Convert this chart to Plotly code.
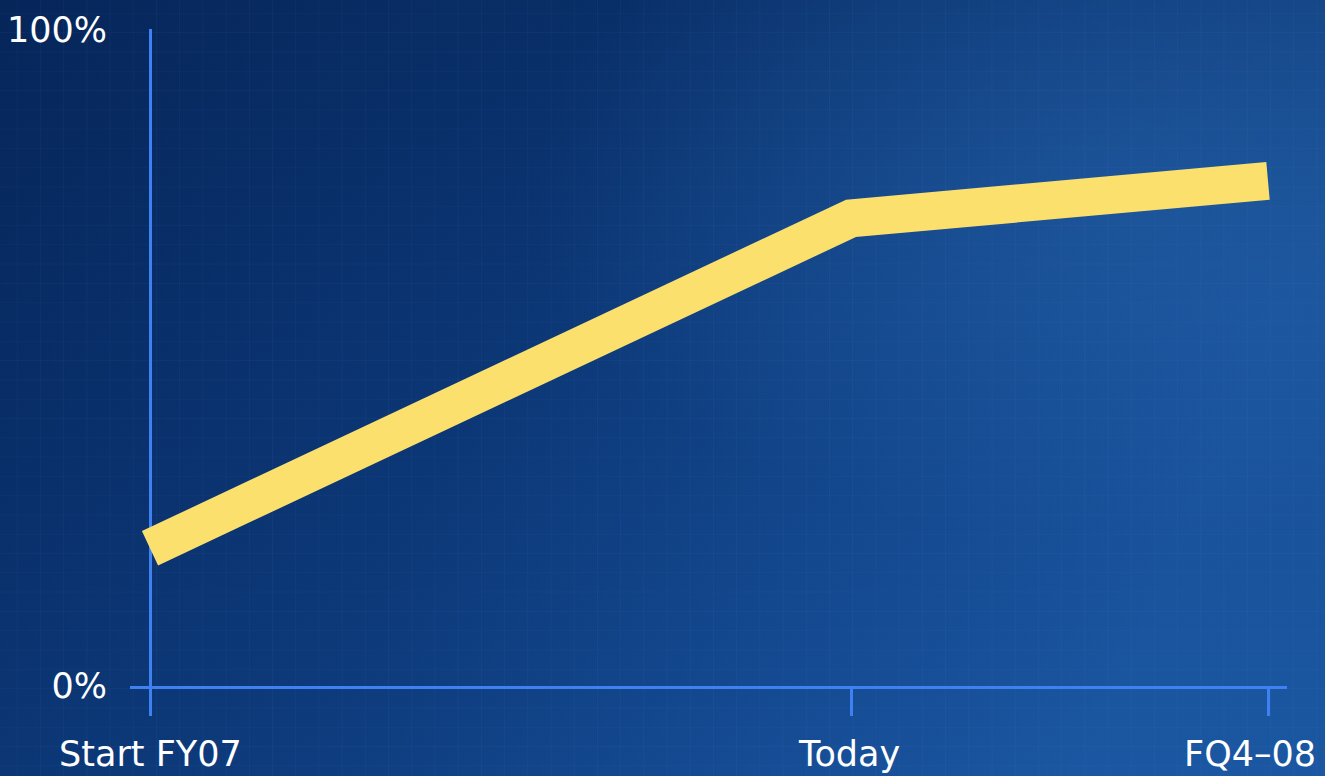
import base64
import plotly.graph_objects as go

# ---- data ----
categories = ["Start FY07", "Today", "FQ4\u201308"]
months_elapsed = [0, 15.05, 24]          # position along the timeline (months from start FY07)
progress_pct = [21, 71.3, 77]             # % complete
y_tick_vals = [0, 100]
y_tick_text = ["0%", "100%"]

# ---- styling ----
W, H = 1325, 776
ML, MR, MT, MB = 130, 38, 29, 90
YELLOW = "#FBE06E"
AXIS_BLUE = "#3F81F2"
FONT = "DejaVu Sans"

# background (gradient + faint grid) as inline SVG
grid_lines = []
for gx in range(0, W, 23):
    grid_lines.append(f'<line x1="{gx}" y1="0" x2="{gx}" y2="{H}" stroke="#8fb8ff" stroke-opacity="0.05" stroke-width="1"/>')
for gy in range(0, H, 19):
    grid_lines.append(f'<line x1="0" y1="{gy}" x2="{W}" y2="{gy}" stroke="#8fb8ff" stroke-opacity="0.04" stroke-width="1"/>')
svg = f'''<svg xmlns="http://www.w3.org/2000/svg" width="{W}" height="{H}" viewBox="0 0 {W} {H}" preserveAspectRatio="none">
<defs>
<linearGradient id="h" x1="0" y1="0" x2="1" y2="0.25">
<stop offset="0" stop-color="#072A62"/>
<stop offset="0.45" stop-color="#0C3878"/>
<stop offset="0.75" stop-color="#144A92"/>
<stop offset="1" stop-color="#1B57A2"/>
</linearGradient>
<linearGradient id="v" x1="0" y1="0" x2="0" y2="1">
<stop offset="0" stop-color="#041E4A" stop-opacity="0.35"/>
<stop offset="0.4" stop-color="#041E4A" stop-opacity="0.1"/>
<stop offset="1" stop-color="#1A55A0" stop-opacity="0.15"/>
</linearGradient>
<radialGradient id="g" cx="0.85" cy="0.25" r="0.45">
<stop offset="0" stop-color="#2A6AB2" stop-opacity="0.4"/>
<stop offset="1" stop-color="#2A6AB2" stop-opacity="0"/>
</radialGradient>
</defs>
<rect width="{W}" height="{H}" fill="url(#h)"/>
<rect width="{W}" height="{H}" fill="url(#v)"/>
<rect width="{W}" height="{H}" fill="url(#g)"/>
{''.join(grid_lines)}
</svg>'''
bg_src = "data:image/svg+xml;base64," + base64.b64encode(svg.encode()).decode()

plot_w = W - ML - MR
plot_h = H - MT - MB
pad = 6  # extend background image past the page edges

# axis ranges so that x=0 sits 20px inside the left edge and y=0 at the bottom
x_lo = -20 / ((1268 - 150) / 24)
x_hi = 24 + 19 / ((1268 - 150) / 24)

fig = go.Figure()
fig.add_trace(go.Scatter(
    x=months_elapsed, y=progress_pct, mode="lines",
    line=dict(color=YELLOW, width=38),
    hoverinfo="skip", showlegend=False, cliponaxis=False,
))

# x category labels as annotations anchored to the data positions
shifts = [0, -2, -18]
for xv, lab, sh in zip(months_elapsed, categories, shifts):
    fig.add_annotation(x=xv, y=0, xref="x", yref="y", text=lab, showarrow=False,
                       yanchor="top", yshift=-46, xshift=sh,
                       font=dict(family=FONT, size=35, color="white"))

fig.update_layout(
    width=W, height=H,
    margin=dict(l=ML, r=MR, t=MT, b=MB, autoexpand=False),
    paper_bgcolor="#0A3270", plot_bgcolor="rgba(0,0,0,0)",
    showlegend=False,
    images=[dict(source=bg_src, xref="paper", yref="paper",
                 x=-(ML + pad) / plot_w, y=1 + (MT + pad) / plot_h,
                 sizex=(W + 2 * pad) / plot_w, sizey=(H + 2 * pad) / plot_h,
                 sizing="stretch", layer="below", xanchor="left", yanchor="top")],
    xaxis=dict(range=[x_lo, x_hi], showgrid=False, automargin=False,
               zeroline=True, zerolinecolor=AXIS_BLUE, zerolinewidth=3,
               showline=True, linecolor=AXIS_BLUE, linewidth=3,
               tickmode="array", tickvals=months_elapsed, ticktext=["", "", ""],
               ticks="outside", ticklen=27, tickwidth=3, tickcolor=AXIS_BLUE,
               fixedrange=True),
    yaxis=dict(range=[0, 100 + 1 / (656 / 100)], showgrid=False, zeroline=False,
               automargin=False,
               showline=False, tickmode="array", tickvals=y_tick_vals, ticktext=y_tick_text,
               ticks="", ticklabelstandoff=22,
               tickfont=dict(family=FONT, size=35, color="white"),
               fixedrange=True),
)

fig.write_html("out.html", config={"displayModeBar": False},
               post_script="document.body.style.margin='0';document.body.style.overflow='hidden';")
